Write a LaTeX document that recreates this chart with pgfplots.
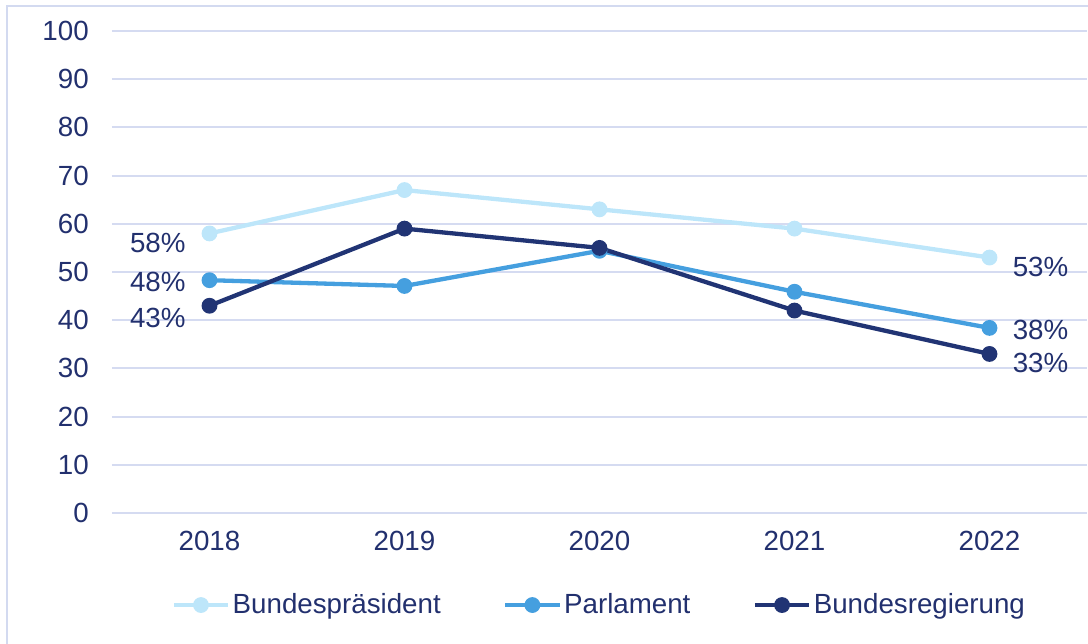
\documentclass[border=0pt]{standalone}
\usepackage{fontspec}
\setmainfont{Liberation Sans}
\usepackage{pgfplots}
\pgfplotsset{compat=1.18}

\definecolor{txt}{HTML}{22306E}
\definecolor{gridc}{HTML}{D5DBF1}
\definecolor{framec}{HTML}{D3DAF0}
\definecolor{cPraes}{HTML}{BDE6FA}
\definecolor{cParl}{HTML}{459FDF}
\definecolor{cReg}{HTML}{213474}

\begin{document}
\fontsize{11.6}{13.5}\selectfont
\begin{tikzpicture}
% page = 1088 x 643 px, 1 px = 16/1088 cm
\useasboundingbox (-1.647cm,-1.912cm) rectangle (14.353cm,7.544cm);
\draw[framec, line width=0.8pt] (-1.544cm,-3cm) -- (-1.544cm,7.456cm) -- (16cm,7.456cm);
\begin{axis}[
    at={(0,0)}, anchor=south west,
    scale only axis,
    width=14.338cm,
    height=7.088cm,
    xmin=-0.5, xmax=4.5,
    ymin=0, ymax=100,
    xtick={0,1,2,3,4},
    xticklabels={2018,2019,2020,2021,2022},
    ytick={0,10,...,100},
    axis line style={draw=none},
    major tick length=0pt,
    ymajorgrids, xmajorgrids=false,
    grid style={draw=gridc, line width=0.8pt},
    tick label style={font=\fontsize{11.6}{13.5}\selectfont, text=txt},
    /pgf/number format/assume math mode=true,
    yticklabel style={xshift=-0.2cm},
    xticklabel style={yshift=-0.12cm},
    legend style={at={(0.5,-0.191)}, anchor=center, draw=none, fill=none,
        font=\fontsize{11.6}{13.5}\selectfont, text=txt,
        legend columns=-1,
        /tikz/every even column/.append style={column sep=0.88cm},
        nodes={inner xsep=1pt}},
    legend image code/.code={\draw[mark repeat=2,mark phase=2] plot coordinates {(0cm,0cm) (0.4cm,0cm) (0.8cm,0cm)};},
    every axis plot/.append style={line width=1.8pt, mark=*, mark size=2.4pt},
    clip=false,
]
\addplot[color=cPraes] coordinates {(0,58) (1,67) (2,63) (3,59) (4,53)};
\addlegendentry{Bundespräsident}
\addplot[color=cParl] coordinates {(0,48.3) (1,47.1) (2,54.4) (3,45.9) (4,38.4)};
\addlegendentry{Parlament}
\addplot[color=cReg] coordinates {(0,43) (1,59) (2,55) (3,42) (4,33)};
\addlegendentry{Bundesregierung}

\begin{scope}[every node/.style={text=txt, font=\fontsize{11.6}{13.5}\selectfont}]
\node[anchor=east] at ([xshift=-0.21cm]axis cs:0,56) {58\%};
\node[anchor=east] at ([xshift=-0.21cm]axis cs:0,47.9) {48\%};
\node[anchor=east] at ([xshift=-0.21cm]axis cs:0,40.5) {43\%};
\node[anchor=west] at ([xshift=0.2cm]axis cs:4,51) {53\%};
\node[anchor=west] at ([xshift=0.2cm]axis cs:4,38) {38\%};
\node[anchor=west] at ([xshift=0.2cm]axis cs:4,31.1) {33\%};
\end{scope}
\end{axis}
\end{tikzpicture}
\end{document}
